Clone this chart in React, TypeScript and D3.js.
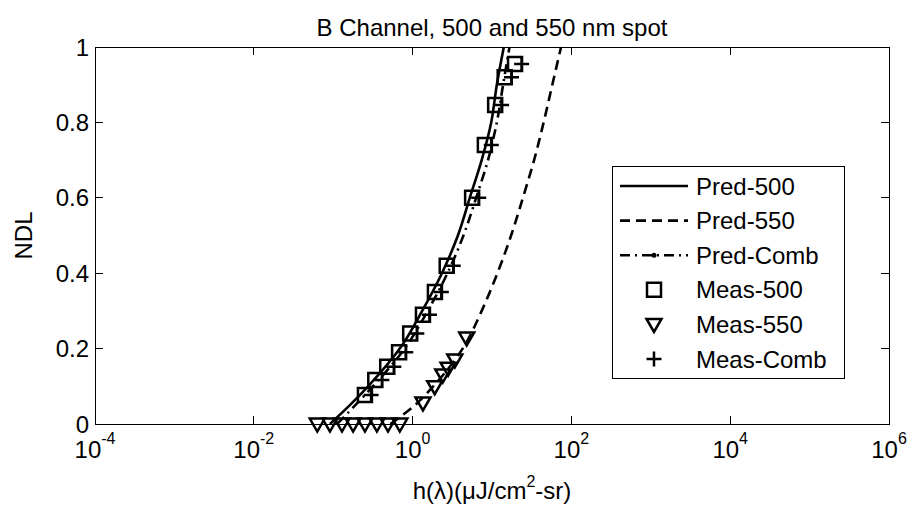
import React from 'react';
import * as d3 from 'd3';

// ---------- data ----------
const xTickValues = [1e-4, 1e-2, 1, 1e2, 1e4, 1e6];
const xTickExponents = ['-4', '-2', '0', '2', '4', '6'];
const yTickValues = [0, 0.2, 0.4, 0.6, 0.8, 1];
const yTickLabels = ['0', '0.2', '0.4', '0.6', '0.8', '1'];

const predNDL = [0, 0.05, 0.1, 0.2, 0.3, 0.4, 0.5, 0.6, 0.7, 0.8, 0.9, 1.0];
const pred500H = [0.091, 0.162, 0.275, 0.69, 1.32, 2.34, 3.72, 5.25, 7.41, 9.77, 11.5, 14.1];
const pred550H = [0.525, 1.07, 1.82, 4.27, 7.41, 11.7, 17.4, 24.5, 33.9, 44.7, 57.5, 74.1];
const predCombH = [0.112, 0.19, 0.316, 0.794, 1.55, 2.75, 4.37, 6.31, 8.91, 11.5, 13.8, 16.6];

const meas500H = [0.251, 0.339, 0.479, 0.676, 0.933, 1.35, 1.91, 2.69, 5.62, 8.13, 10.96, 14.45, 19.5];
const meas500N = [0.077, 0.117, 0.152, 0.19, 0.24, 0.29, 0.35, 0.42, 0.60, 0.74, 0.846, 0.92, 0.955];

const measCombH = [0.3, 0.41, 0.58, 0.82, 1.13, 1.63, 2.3, 3.25, 6.8, 9.8, 13.2, 17.6, 23.6];
const measCombN = [0.077, 0.117, 0.152, 0.19, 0.24, 0.29, 0.35, 0.42, 0.60, 0.74, 0.846, 0.92, 0.955];

const meas550H = [0.063, 0.091, 0.129, 0.178, 0.251, 0.355, 0.49, 0.69, 1.35, 1.9, 2.4, 2.8, 3.4, 4.8];
const meas550N = [0, 0, 0, 0, 0, 0, 0, 0, 0.056, 0.099, 0.13, 0.148, 0.17, 0.228];

const legendLabels = ['Pred-500', 'Pred-550', 'Pred-Comb', 'Meas-500', 'Meas-550', 'Meas-Comb'];

// ---------- layout ----------
const W = 912;
const H = 510;
const L = 95, R = 889, T = 47, B = 424;
const FONT = '"Liberation Sans", Arial, Helvetica, sans-serif';

const x = d3.scaleLog().domain([1e-4, 1e6]).range([L, R]);
const y = d3.scaleLinear().domain([0, 1]).range([B, T]);

const lineGen = d3
  .line<[number, number]>()
  .x((d) => x(d[0]))
  .y((d) => y(d[1]))
  .curve(d3.curveMonotoneY);

const zip = (a: number[], b: number[]): [number, number][] => a.map((v, i) => [v, b[i]]);

const SQ = 7;
const squarePath = `M${-SQ},${-SQ}H${SQ}V${SQ}H${-SQ}Z`;
const triPath = 'M-7.5,-5.5L7.5,-5.5L0,7.5Z';
const plusPath = 'M-7.5,0H7.5M0,-7.5V7.5';

const DASH = '10,6';
const DASHDOT = '10,5,2,5';

export default function App() {
  const legendRowY = d3.range(6).map((i) => 186 + i * 34.6);
  const lgX0 = 612, lgX1 = 844, lgY0 = 166, lgY1 = 378;
  const lineA = 620, lineB = 688, lineMid = 654, textX = 696;

  return (
    <svg
      width={W}
      height={H}
      style={{ position: 'absolute', left: 0, top: 0, background: '#fff' }}
      fontFamily={FONT}
    >
      <rect x={0} y={0} width={W} height={H} fill="#fff" />
      {/* title */}
      <text x={(L + R) / 2} y={36} textAnchor="middle" fontSize={24} fill="#000">
        B Channel, 500 and 550 nm spot
      </text>

      {/* curves */}
      <g fill="none" stroke="#000" strokeWidth={2.6}>
        <path d={lineGen(zip(pred500H, predNDL)) || ''} />
        <path d={lineGen(zip(pred550H, predNDL)) || ''} strokeDasharray={DASH} />
        <path d={lineGen(zip(predCombH, predNDL)) || ''} strokeDasharray={DASHDOT} />
      </g>

      {/* markers */}
      <g fill="none" stroke="#000" strokeWidth={2.5}>
        {meas500H.map((h, i) => (
          <path key={'s' + i} d={squarePath} transform={`translate(${x(h)},${y(meas500N[i])})`} />
        ))}
        {meas550H.map((h, i) => (
          <path key={'t' + i} d={triPath} transform={`translate(${x(h)},${y(meas550N[i])})`} strokeLinejoin="miter" />
        ))}
        {measCombH.map((h, i) => (
          <path key={'p' + i} d={plusPath} transform={`translate(${x(h)},${y(measCombN[i])})`} />
        ))}
      </g>

      {/* axes box */}
      <rect x={L} y={T} width={R - L} height={B - T} fill="none" stroke="#000" strokeWidth={1} shapeRendering="crispEdges" />

      {/* ticks */}
      <g stroke="#000" strokeWidth={1} shapeRendering="crispEdges">
        {xTickValues.map((v, i) => (
          <g key={'xt' + i}>
            <line x1={x(v)} x2={x(v)} y1={B} y2={B - 8} />
            <line x1={x(v)} x2={x(v)} y1={T} y2={T + 8} />
          </g>
        ))}
        {yTickValues.map((v, i) => (
          <g key={'yt' + i}>
            <line x1={L} x2={L + 8} y1={y(v)} y2={y(v)} />
            <line x1={R} x2={R - 8} y1={y(v)} y2={y(v)} />
          </g>
        ))}
      </g>
      <g fontSize={24} fill="#000">
        {xTickValues.map((v, i) => (
          <text key={'xl' + i} x={x(v)} y={458} textAnchor="middle">
            10
            <tspan dy={-14} fontSize={16}>
              {xTickExponents[i]}
            </tspan>
          </text>
        ))}
        {yTickValues.map((v, i) => (
          <text key={'yl' + i} x={89} y={y(v)} textAnchor="end" dominantBaseline="central">
            {yTickLabels[i]}
          </text>
        ))}
      </g>

      {/* axis labels */}
      <text x={(L + R) / 2} y={499} textAnchor="middle" fontSize={24} fill="#000">
        h(λ)(μJ/cm
        <tspan dy={-12} fontSize={16}>2</tspan>
        <tspan dy={12}>-sr)</tspan>
      </text>
      <text
        transform={`translate(32,${(T + B) / 2}) rotate(-90)`}
        textAnchor="middle"
        fontSize={24}
        fill="#000"
      >
        NDL
      </text>

      {/* legend */}
      <rect x={lgX0} y={lgY0} width={lgX1 - lgX0} height={lgY1 - lgY0} fill="#fff" stroke="#000" strokeWidth={1} shapeRendering="crispEdges" />
      <g stroke="#000" fill="none" strokeWidth={2.6}>
        <line x1={lineA} x2={lineB} y1={legendRowY[0]} y2={legendRowY[0]} />
        <line x1={lineA} x2={lineB} y1={legendRowY[1]} y2={legendRowY[1]} strokeDasharray={DASH} />
        <line x1={lineA} x2={lineB} y1={legendRowY[2]} y2={legendRowY[2]} strokeDasharray={DASHDOT} />
        <circle cx={lineMid} cy={legendRowY[2]} r={2.5} fill="#000" stroke="none" />
        <path d={squarePath} transform={`translate(${lineMid},${legendRowY[3]})`} strokeWidth={2.5} />
        <path d={triPath} transform={`translate(${lineMid},${legendRowY[4]})`} strokeWidth={2.5} />
        <path d={plusPath} transform={`translate(${lineMid},${legendRowY[5]})`} strokeWidth={2.5} />
      </g>
      <g fontSize={24} fill="#000">
        {legendLabels.map((t, i) => (
          <text key={'lg' + i} x={textX} y={legendRowY[i]} dominantBaseline="central">
            {t}
          </text>
        ))}
      </g>
    </svg>
  );
}
